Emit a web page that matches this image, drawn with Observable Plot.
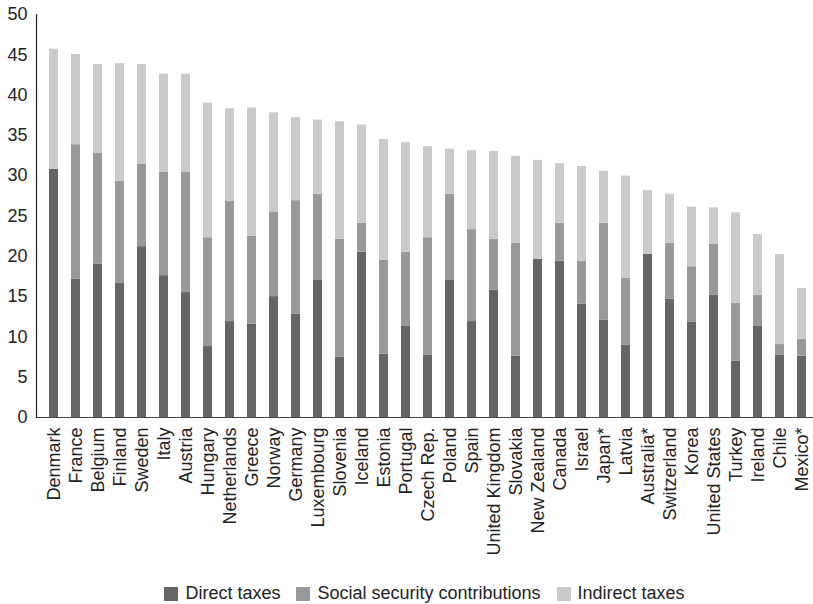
<!DOCTYPE html>
<html>
<head>
<meta charset="utf-8">
<script src="https://cdn.jsdelivr.net/npm/d3@7"></script>
<script src="https://cdn.jsdelivr.net/npm/@observablehq/plot@0.6"></script>
<style>
  html, body { margin: 0; padding: 0; background: #fff; }
  #chart svg { display: block; }
  .legend { width: 813px; height: 21px; box-sizing: border-box; padding-left: 36px;
    display: flex; justify-content: center; align-items: center;
    font-family: "Liberation Sans", Arial, Helvetica, sans-serif; font-size: 18px; line-height: 21px; color: #222; }
  .legend .item { display: flex; align-items: center; margin: 0 8px; }
  .legend .sw { width: 14px; height: 14px; margin-right: 7px; display: inline-block; }
</style>
</head>
<body>
<div id="chart"></div>
<div class="legend" id="legend"></div>
<script>
const countries = ["Denmark","France","Belgium","Finland","Sweden","Italy","Austria","Hungary","Netherlands","Greece","Norway","Germany","Luxembourg","Slovenia","Iceland","Estonia","Portugal","Czech Rep.","Poland","Spain","United Kingdom","Slovakia","New Zealand","Canada","Israel","Japan*","Latvia","Australia*","Switzerland","Korea","United States","Turkey","Ireland","Chile","Mexico*"];
const directTaxes = [30.8,17.15,19.0,16.7,21.2,17.6,15.5,8.8,11.9,11.6,15.0,12.8,17.0,7.5,20.5,7.85,11.3,7.7,17.0,11.9,15.8,7.6,19.6,19.4,14.05,12.1,9.0,20.25,14.7,11.8,15.2,7.0,11.3,7.7,7.6];
const socialSecurity = [0,16.7,13.8,12.6,10.2,12.8,14.9,13.5,14.9,10.9,10.5,14.1,10.7,14.6,3.6,11.65,9.2,14.6,10.7,11.4,6.3,14.0,0,4.7,5.3,12.0,8.3,0,6.9,6.9,6.3,7.2,3.85,1.35,2.1];
const indirectTaxes = [14.9,11.2,11.0,14.6,12.4,12.2,12.2,16.7,11.5,15.9,12.3,10.3,9.2,14.6,12.2,15.0,13.6,11.3,5.6,9.8,10.9,10.8,12.3,7.4,11.8,6.45,12.65,7.9,6.1,7.4,4.5,11.2,7.55,11.15,6.3];
const seriesNames = ["Direct taxes","Social security contributions","Indirect taxes"];
const seriesColors = ["#646567","#97989a","#c9cacc"];
const yTicks = [0,5,10,15,20,25,30,35,40,45,50];

const rows = [];
countries.forEach((c, i) => {
  rows.push({country: c, type: seriesNames[0], value: directTaxes[i]});
  rows.push({country: c, type: seriesNames[1], value: socialSecurity[i]});
  rows.push({country: c, type: seriesNames[2], value: indirectTaxes[i]});
});

const chart = Plot.plot({
  width: 813,
  height: 583,
  marginTop: 14,
  marginBottom: 166,
  marginLeft: 36,
  marginRight: 0,
  style: {fontFamily: "'Liberation Sans', Arial, Helvetica, sans-serif", fontSize: "18px", color: "#222", background: "#fff"},
  x: {domain: countries, range: [29.4, 824.7], padding: 0.6, label: null},
  y: {domain: [0, 50], label: null},
  color: {domain: seriesNames, range: seriesColors},
  marks: [
    Plot.barY(rows, {x: "country", y: "value", fill: "type", z: "type"}),
    Plot.axisX({tickRotate: -90, tickSize: 0, tickPadding: 10, label: null, fontSize: 18}),
    Plot.axisY({ticks: yTicks, tickSize: 0, tickPadding: 9, label: null, fontSize: 18}),
    Plot.ruleY([0], {stroke: "#444", strokeWidth: 1.2}),
    Plot.frame({anchor: "left", stroke: "#222", strokeWidth: 1.2})
  ]
});
document.getElementById("chart").appendChild(chart);

const legend = document.getElementById("legend");
seriesNames.forEach((name, i) => {
  const item = document.createElement("span");
  item.className = "item";
  const sw = document.createElement("span");
  sw.className = "sw";
  sw.style.background = seriesColors[i];
  const label = document.createElement("span");
  label.textContent = name;
  item.appendChild(sw);
  item.appendChild(label);
  legend.appendChild(item);
});
</script>
</body>
</html>
